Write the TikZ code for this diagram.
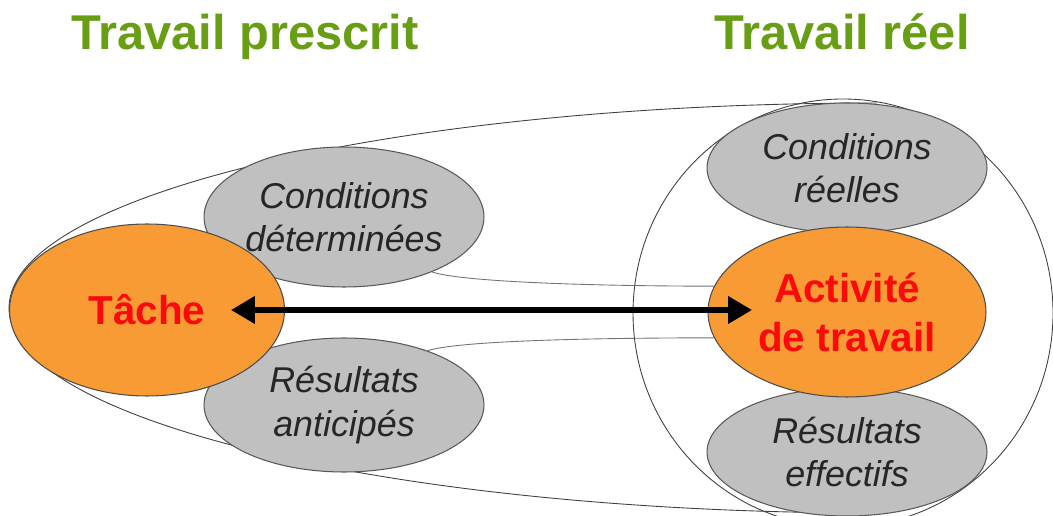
\documentclass[tikz,border=0pt]{standalone}
\usepackage{fontspec}
\setmainfont{Liberation Sans}
\usetikzlibrary{shapes.geometric,arrows.meta}

\definecolor{titlegreen}{RGB}{104,158,20}
\definecolor{tacheorange}{RGB}{248,155,52}
\definecolor{bubblegray}{RGB}{192,192,192}
\definecolor{redtext}{RGB}{250,10,10}

\tikzset{
  bubble/.style={ellipse, draw=black!65, line width=0.6pt, fill=bubblegray, inner sep=0pt,
    minimum width=5.6cm, minimum height=2.8cm, align=center,
    font=\fontsize{20.4}{24.5}\selectfont\itshape, text=black!85},
  core/.style={ellipse, draw=black!70, line width=0.6pt, fill=tacheorange, inner sep=0pt,
    align=center, font=\fontsize{23}{28}\selectfont\bfseries, text=redtext},
  heading/.style={font=\fontsize{27.8}{30}\selectfont\bfseries, text=titlegreen, anchor=base},
  hull/.style={draw=black!75, line width=0.5pt},
  thinlink/.style={draw=black!55, line width=0.5pt},
  biarrow/.style={line width=3.2pt,
    {Triangle[length=13.6pt,width=15pt]}-{Triangle[length=13.6pt,width=15pt]}}
}

\begin{document}
\begin{tikzpicture}[x=0.02cm,y=-0.02cm]
  \useasboundingbox (0,0) rectangle (1053,516);

  % outer hull and circle
  \draw[hull] (877,103) arc[start angle=270, end angle=90, x radius=868, y radius=205];
  \draw[hull] (843,313) ellipse[x radius=210, y radius=214];

  % titles
  \node[heading] (prescrit) at (245,50) {Travail prescrit};
  \node[heading] (reel) at (842,50) {Travail réel};

  % grey bubbles
  \node[bubble] (condL) at (344,217) {Conditions\\déterminées};
  \node[bubble, minimum height=2.68cm] (resL) at (344,405) {Résultats\\anticipés};
  \node[bubble, minimum height=2.6cm] (condR) at (847,168) {Conditions\\réelles};
  \node[bubble, minimum height=2.56cm] (resR) at (847,452) {Résultats\\effectifs};

  % orange cores
  \node[core, minimum width=5.5cm, minimum height=3.44cm] (tache) at (147,310) {Tâche};
  \node[core, minimum width=5.56cm, minimum height=3.4cm] (activite) at (847,312) {Activité\\de travail};

  % links
  \draw[thinlink] (condL.-32) .. controls +(30,10) and +(-120,0) .. (activite.169);
  \draw[thinlink] (resL.33) .. controls +(30,-10) and +(-120,0) .. (activite.191);
  \draw[biarrow, shorten <=1.68cm, shorten >=1.9cm] (tache.center) -- (tache.center -| activite.center);
\end{tikzpicture}
\end{document}
